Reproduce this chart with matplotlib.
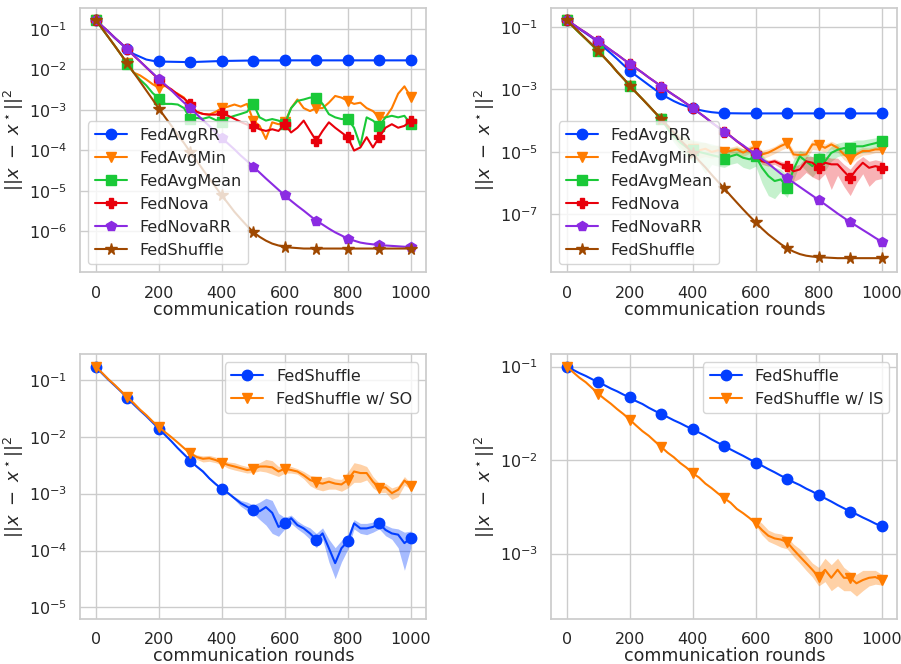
import numpy as np
import matplotlib
matplotlib.use("Agg")
import matplotlib.pyplot as plt
import seaborn as sns

sns.set_theme(style="whitegrid", context="notebook", font_scale=1.05)

# communication rounds (every 20 rounds)
rounds = np.arange(0, 1001, 20)

# colours (seaborn "bright")
c_blue = "#023eff"
c_orange = "#ff7c00"
c_green = "#1ac938"
c_red = "#e8000b"
c_purple = "#8b2be2"
c_brown = "#9f4800"

# ---------------- top left ----------------
tl_fedavgrr = [0.165, 0.117, 0.085, 0.060, 0.043, 0.031, 0.024, 0.0205, 0.0175, 0.0163,
               0.0158, 0.0155, 0.0154, 0.0153, 0.0152, 0.0152, 0.0153, 0.0155, 0.0157, 0.0159,
               0.0161, 0.0162, 0.0163, 0.0164, 0.0165, 0.0165, 0.0166, 0.0166, 0.0166, 0.0166,
               0.0167, 0.0167, 0.0167, 0.0167, 0.0167, 0.0167, 0.0167, 0.0167, 0.0167, 0.0167,
               0.0167, 0.0167, 0.0167, 0.0167, 0.0167, 0.0167, 0.0167, 0.0167, 0.0167, 0.0167,
               0.0167]
tl_fedavgmin = [0.166, 0.100, 0.062, 0.038, 0.023, 0.014, 8.3e-3, 7.1e-3, 5.6e-3, 4.3e-3,
                3.5e-3, 3.9e-3, 3.0e-3, 2.5e-3, 2.0e-3, 1.1e-3, 8.9e-4, 7.9e-4, 7.6e-4, 8.9e-4,
                1.1e-3, 1.2e-3, 1.35e-3, 1.2e-3, 1.4e-3, 5.4e-4, 4.0e-4, 1.9e-4, 4.9e-4, 4.4e-4,
                4.9e-4, 1.1e-3, 1.8e-3, 1.1e-3, 9.3e-4, 1.1e-3, 1.1e-3, 1.5e-3, 2.2e-3, 2.0e-3,
                1.66e-3, 1.4e-3, 1.5e-3, 1.1e-3, 9.3e-4, 6.5e-4, 6.5e-4, 1.1e-3, 2.5e-3, 3.8e-3,
                2.1e-3]
tl_fedavgmean = [0.166, 0.100, 0.062, 0.038, 0.023, 0.0132, 8.3e-3, 5.6e-3, 4.0e-3, 2.6e-3,
                 1.9e-3, 1.4e-3, 1.4e-3, 1.35e-3, 1.1e-3, 5.9e-4, 6.3e-4, 6.0e-4, 6.6e-4, 5.6e-4,
                 4.9e-4, 6.3e-4, 7.1e-4, 7.9e-4, 8.9e-4, 1.4e-3, 6.5e-4, 5.4e-4, 5.9e-4, 5.4e-4,
                 4.4e-4, 1.1e-3, 1.66e-3, 1.8e-3, 2.0e-3, 2.0e-3, 1.4e-3, 7.8e-4, 6.5e-4, 5.9e-4,
                 5.9e-4, 3.6e-4, 1.3e-4, 6.5e-4, 5.4e-4, 4.0e-4, 6.5e-4, 7.1e-4, 6.5e-4, 7.1e-4,
                 4.4e-4]
tl_fednova = [0.166, 0.117, 0.085, 0.060, 0.044, 0.031, 0.022, 0.0158, 0.0112, 7.9e-3,
              5.6e-3, 4.0e-3, 3.2e-3, 2.4e-3, 1.9e-3, 1.4e-3, 8.9e-4, 7.9e-4, 7.6e-4, 7.6e-4,
              8.3e-4, 7.1e-4, 6.0e-4, 5.0e-4, 4.3e-4, 4.0e-4, 3.3e-4, 3.0e-4, 3.3e-4, 3.0e-4,
              4.4e-4, 2.75e-4, 3.6e-4, 5.4e-4, 3.0e-4, 1.7e-4, 3.0e-4, 4.9e-4, 3.6e-4, 2.75e-4,
              2.1e-4, 9.8e-5, 1.17e-4, 2.1e-4, 1.17e-4, 2.1e-4, 3.6e-4, 4.4e-4, 3.6e-4, 4.0e-4,
              5.4e-4]
tl_fednovarr = [0.166, 0.117, 0.085, 0.060, 0.044, 0.031, 0.022, 0.0158, 0.0112, 8.1e-3,
                5.8e-3, 4.2e-3, 3.0e-3, 2.1e-3, 1.5e-3, 1.1e-3, 7.8e-4, 5.5e-4, 4.0e-4, 2.8e-4,
                2.0e-4, 1.45e-4, 1.05e-4, 7.4e-5, 5.4e-5, 3.9e-5, 2.8e-5, 2.0e-5, 1.45e-5, 1.05e-5,
                7.6e-6, 5.6e-6, 4.2e-6, 3.2e-6, 2.4e-6, 1.8e-6, 1.45e-6, 1.15e-6, 9.3e-7, 7.8e-7,
                6.5e-7, 5.8e-7, 5.2e-7, 4.9e-7, 4.7e-7, 4.5e-7, 4.4e-7, 4.3e-7, 4.2e-7, 4.1e-7,
                4.1e-7]
tl_fedshuffle = [0.166, 0.102, 0.062, 0.038, 0.023, 0.014, 8.3e-3, 5.0e-3, 3.0e-3, 1.8e-3,
                 1.06e-3, 6.5e-4, 4.0e-4, 2.4e-4, 1.5e-4, 8.9e-5, 5.5e-5, 3.3e-5, 2.0e-5, 1.23e-5,
                 7.6e-6, 4.8e-6, 3.0e-6, 2.0e-6, 1.35e-6, 9.5e-7, 7.2e-7, 5.8e-7, 4.9e-7, 4.4e-7,
                 4.1e-7, 3.9e-7, 3.8e-7, 3.7e-7, 3.7e-7, 3.7e-7, 3.7e-7, 3.7e-7, 3.7e-7, 3.7e-7,
                 3.7e-7, 3.7e-7, 3.7e-7, 3.7e-7, 3.7e-7, 3.7e-7, 3.7e-7, 3.7e-7, 3.7e-7, 3.7e-7,
                 3.7e-7]

# ---------------- top right ----------------
tr_fedavgrr = [0.162, 0.117, 0.085, 0.062, 0.045, 0.032, 0.021, 0.0141, 9.3e-3, 6.0e-3,
               3.9e-3, 2.75e-3, 1.95e-3, 1.38e-3, 9.8e-4, 7.1e-4, 5.4e-4, 4.2e-4, 3.4e-4, 2.9e-4,
               2.5e-4, 2.2e-4, 2.0e-4, 1.86e-4, 1.78e-4, 1.74e-4, 1.72e-4, 1.71e-4, 1.7e-4, 1.7e-4,
               1.7e-4, 1.7e-4, 1.7e-4, 1.7e-4, 1.7e-4, 1.7e-4, 1.7e-4, 1.7e-4, 1.7e-4, 1.7e-4,
               1.7e-4, 1.7e-4, 1.7e-4, 1.7e-4, 1.7e-4, 1.7e-4, 1.7e-4, 1.7e-4, 1.7e-4, 1.7e-4,
               1.7e-4]
tr_fedavgmin = [0.162, 0.100, 0.063, 0.041, 0.026, 0.017, 0.0102, 6.2e-3, 3.6e-3, 2.2e-3,
                1.32e-3, 7.9e-4, 4.9e-4, 3.0e-4, 1.82e-4, 1.12e-4, 6.3e-5, 3.5e-5, 2.2e-5, 1.58e-5,
                1.26e-5, 1.12e-5, 1.26e-5, 1.0e-5, 1.12e-5, 1.0e-5, 1.07e-5, 1.2e-5, 9.5e-6, 1.2e-5,
                1.51e-5, 8.3e-6, 9.5e-6, 1.2e-5, 1.55e-5, 1.9e-5, 8.3e-6, 7.9e-6, 8.3e-6, 1.74e-5,
                1.7e-5, 1.35e-5, 1.74e-5, 1.35e-5, 8.3e-6, 5.8e-6, 8.3e-6, 1.07e-5, 1.07e-5, 1.2e-5,
                1.2e-5]
tr_fedavgmean = [0.162, 0.100, 0.063, 0.041, 0.026, 0.017, 0.0102, 6.2e-3, 3.6e-3, 2.2e-3,
                 1.32e-3, 7.9e-4, 4.9e-4, 3.0e-4, 1.82e-4, 1.12e-4, 5.6e-5, 3.2e-5, 2.0e-5, 1.41e-5,
                 1.12e-5, 1.0e-5, 8.9e-6, 7.9e-6, 7.1e-6, 6.0e-6, 7.2e-6, 8.3e-6, 6.5e-6, 5.8e-6,
                 7.2e-6, 3.1e-6, 1.7e-6, 1.17e-6, 1.32e-6, 7.2e-7, 2.75e-6, 7.2e-6, 5.0e-6, 3.5e-6,
                 5.8e-6, 5.0e-6, 9.3e-6, 1.17e-5, 1.32e-5, 1.32e-5, 1.51e-5, 1.51e-5, 1.7e-5, 1.9e-5,
                 2.2e-5]
tr_fednova = [0.162, 0.120, 0.087, 0.065, 0.047, 0.035, 0.025, 0.0178, 0.0129, 9.1e-3,
              6.6e-3, 4.7e-3, 3.4e-3, 2.4e-3, 1.74e-3, 1.23e-3, 8.9e-4, 6.5e-4, 4.8e-4, 3.5e-4,
              2.5e-4, 1.78e-4, 1.26e-4, 8.7e-5, 6.2e-5, 4.4e-5, 3.2e-5, 2.2e-5, 1.55e-5, 1.07e-5,
              8.9e-6, 5.0e-6, 4.5e-6, 5.0e-6, 4.0e-6, 3.5e-6, 2.4e-6, 2.75e-6, 5.0e-6, 4.5e-6,
              3.1e-6, 4.5e-6, 4.0e-6, 4.0e-6, 2.4e-6, 1.48e-6, 2.75e-6, 4.5e-6, 3.1e-6, 3.5e-6,
              3.1e-6]
tr_fednovarr = [0.162, 0.120, 0.087, 0.065, 0.047, 0.035, 0.025, 0.0178, 0.0129, 9.1e-3,
                6.6e-3, 4.7e-3, 3.4e-3, 2.4e-3, 1.74e-3, 1.23e-3, 8.9e-4, 6.5e-4, 4.8e-4, 3.5e-4,
                2.5e-4, 1.78e-4, 1.26e-4, 8.7e-5, 6.2e-5, 4.4e-5, 3.2e-5, 2.2e-5, 1.62e-5, 1.15e-5,
                8.3e-6, 5.9e-6, 4.2e-6, 2.9e-6, 2.0e-6, 1.45e-6, 1.05e-6, 7.6e-7, 5.5e-7, 4.0e-7,
                2.9e-7, 2.1e-7, 1.5e-7, 1.07e-7, 7.8e-8, 5.6e-8, 4.3e-8, 3.2e-8, 2.4e-8, 1.78e-8,
                1.35e-8]
tr_fedshuffle = [0.162, 0.102, 0.066, 0.042, 0.027, 0.017, 0.0102, 6.2e-3, 3.6e-3, 2.2e-3,
                 1.32e-3, 7.9e-4, 4.9e-4, 3.0e-4, 1.82e-4, 1.12e-4, 6.8e-5, 4.1e-5, 2.45e-5, 1.48e-5,
                 8.9e-6, 5.2e-6, 3.2e-6, 1.86e-6, 1.12e-6, 6.8e-7, 4.0e-7, 2.4e-7, 1.45e-7, 8.9e-8,
                 5.6e-8, 3.5e-8, 2.3e-8, 1.6e-8, 1.12e-8, 8.3e-9, 6.5e-9, 5.4e-9, 4.8e-9, 4.5e-9,
                 4.3e-9, 4.2e-9, 4.1e-9, 4.0e-9, 4.0e-9, 4.0e-9, 4.0e-9, 4.0e-9, 4.0e-9, 4.0e-9,
                 4.0e-9]

# shaded ranges (top right), rounds 320..1000 and 500..1000
tr_mean_hi = [7.9e-5, 5.0e-5, 3.5e-5, 2.8e-5, 2.4e-5, 2.2e-5, 2.0e-5, 1.78e-5, 1.58e-5, 1.26e-5,
              1.32e-5, 1.41e-5, 1.26e-5, 1.12e-5, 1.26e-5, 7.9e-6, 5.0e-6, 3.2e-6, 2.8e-6, 1.78e-6,
              5.6e-6, 1.12e-5, 8.9e-6, 7.1e-6, 1.0e-5, 8.9e-6, 1.51e-5, 1.9e-5, 2.1e-5, 2.1e-5,
              2.4e-5, 2.4e-5, 2.6e-5, 2.8e-5, 3.2e-5]
tr_mean_lo = [4.0e-5, 2.0e-5, 1.12e-5, 7.1e-6, 5.0e-6, 4.5e-6, 2.0e-6, 4.0e-6, 3.5e-6, 3.2e-6,
              4.0e-6, 4.5e-6, 3.2e-6, 2.8e-6, 3.5e-6, 1.0e-6, 4.0e-7, 3.2e-7, 5.6e-7, 3.5e-7,
              1.26e-6, 4.0e-6, 2.5e-6, 1.58e-6, 2.8e-6, 2.5e-6, 5.0e-6, 7.1e-6, 7.9e-6, 7.9e-6,
              8.9e-6, 9.5e-6, 1.07e-5, 1.26e-5, 1.41e-5]
tr_min_hi = [7.9e-5, 5.0e-5, 3.5e-5, 2.8e-5, 2.2e-5, 2.0e-5, 2.0e-5, 1.58e-5, 1.66e-5, 1.41e-5,
             1.41e-5, 1.58e-5, 1.26e-5, 1.58e-5, 1.9e-5, 1.12e-5, 1.26e-5, 1.51e-5, 2.0e-5, 2.4e-5,
             1.12e-5, 1.12e-5, 1.12e-5, 2.4e-5, 2.5e-5, 1.78e-5, 2.2e-5, 1.78e-5, 1.12e-5, 7.9e-6,
             1.12e-5, 1.41e-5, 1.35e-5, 1.51e-5, 1.48e-5]
tr_min_lo = [5.0e-5, 2.5e-5, 1.41e-5, 8.9e-6, 7.1e-6, 6.3e-6, 7.1e-6, 6.3e-6, 7.1e-6, 6.3e-6,
             7.6e-6, 8.9e-6, 7.1e-6, 8.9e-6, 1.12e-5, 6.0e-6, 7.1e-6, 8.9e-6, 1.12e-5, 1.41e-5,
             6.0e-6, 5.6e-6, 6.0e-6, 1.2e-5, 1.12e-5, 1.0e-5, 1.26e-5, 1.0e-5, 5.6e-6, 4.0e-6,
             6.0e-6, 7.9e-6, 8.3e-6, 9.5e-6, 9.5e-6]
tr_nova_hi = [4.7e-5, 3.5e-5, 2.5e-5, 1.74e-5, 1.2e-5, 1.05e-5, 6.0e-6, 5.5e-6, 6.0e-6, 5.0e-6,
              4.5e-6, 3.5e-6, 4.0e-6, 7.1e-6, 7.1e-6, 5.6e-6, 7.1e-6, 6.3e-6, 6.3e-6, 4.0e-6,
              2.8e-6, 5.0e-6, 7.1e-6, 5.0e-6, 5.6e-6, 5.0e-6]
tr_nova_lo = [4.1e-5, 3.0e-5, 2.0e-5, 1.38e-5, 9.5e-6, 7.6e-6, 4.0e-6, 3.5e-6, 4.0e-6, 3.0e-6,
              2.2e-6, 1.12e-6, 1.41e-6, 2.2e-6, 1.58e-6, 1.26e-6, 2.0e-6, 6.3e-7, 1.78e-6, 7.9e-7,
              4.0e-7, 1.0e-6, 2.0e-6, 7.9e-7, 1.26e-6, 1.41e-6]

# ---------------- bottom left ----------------
bl_fedshuffle = [0.166, 0.129, 0.100, 0.079, 0.062, 0.048, 0.037, 0.029, 0.023, 0.0178,
                 0.0138, 0.0107, 8.3e-3, 6.3e-3, 4.9e-3, 3.8e-3, 3.0e-3, 2.45e-3, 1.86e-3, 1.48e-3,
                 1.2e-3, 1.02e-3, 8.3e-4, 6.8e-4, 5.9e-4, 5.2e-4, 4.9e-4, 5.8e-4, 4.6e-4, 2.6e-4,
                 3.0e-4, 3.7e-4, 2.8e-4, 2.45e-4, 2.0e-4, 1.55e-4, 2.0e-4, 1.1e-4, 6.0e-5, 1.1e-4,
                 1.45e-4, 3.0e-4, 2.45e-4, 2.45e-4, 2.6e-4, 3.0e-4, 2.3e-4, 2.0e-4, 1.9e-4, 1.35e-4,
                 1.66e-4]
bl_fedshuffle_so = [0.170, 0.132, 0.102, 0.081, 0.063, 0.049, 0.039, 0.030, 0.024, 0.0186,
                    0.0148, 0.012, 9.8e-3, 7.9e-3, 6.3e-3, 5.1e-3, 4.4e-3, 4.1e-3, 4.2e-3, 3.9e-3,
                    3.5e-3, 3.2e-3, 3.0e-3, 2.8e-3, 2.6e-3, 2.7e-3, 3.0e-3, 3.0e-3, 2.9e-3, 2.45e-3,
                    2.75e-3, 2.6e-3, 2.45e-3, 2.1e-3, 1.74e-3, 1.58e-3, 1.5e-3, 1.62e-3, 1.5e-3, 1.45e-3,
                    1.74e-3, 2.45e-3, 2.3e-3, 2.3e-3, 1.62e-3, 1.26e-3, 1.29e-3, 1.02e-3, 1.17e-3, 1.7e-3,
                    1.35e-3]
# shaded ranges, rounds 300..1000
bl_shuffle_hi = [3.98e-3, 3.16e-3, 2.57e-3, 1.95e-3, 1.55e-3, 1.26e-3, 1.07e-3, 8.9e-4, 7.6e-4, 7.1e-4,
                 6.3e-4, 7.1e-4, 8.3e-4, 7.6e-4, 4.5e-4, 3.8e-4, 4.2e-4, 3.3e-4, 2.8e-4, 2.5e-4,
                 2.0e-4, 2.5e-4, 1.58e-4, 1.12e-4, 1.51e-4, 1.9e-4, 3.5e-4, 3.0e-4, 3.0e-4, 3.16e-4,
                 3.5e-4, 2.8e-4, 2.5e-4, 2.4e-4, 2.1e-4, 2.2e-4]
bl_shuffle_lo = [3.6e-3, 2.9e-3, 2.3e-3, 1.78e-3, 1.41e-3, 1.15e-3, 9.8e-4, 7.8e-4, 6.0e-4, 5.0e-4,
                 4.5e-4, 3.5e-4, 2.8e-4, 2.0e-4, 1.78e-4, 2.4e-4, 3.0e-4, 2.4e-4, 2.0e-4, 1.58e-4,
                 1.12e-4, 1.58e-4, 6.3e-5, 3.2e-5, 6.3e-5, 1.05e-4, 2.4e-4, 2.0e-4, 1.9e-4, 2.1e-4,
                 2.4e-4, 1.82e-4, 1.58e-4, 1.12e-4, 4.5e-5, 1.12e-4]
bl_so_hi = [5.4e-3, 4.8e-3, 4.6e-3, 4.7e-3, 4.4e-3, 4.0e-3, 3.6e-3, 3.5e-3, 3.2e-3, 3.0e-3,
            3.2e-3, 3.5e-3, 4.0e-3, 3.8e-3, 3.0e-3, 3.3e-3, 3.0e-3, 2.75e-3, 2.45e-3, 2.1e-3,
            2.0e-3, 1.9e-3, 2.0e-3, 1.82e-3, 1.78e-3, 2.4e-3, 3.5e-3, 3.3e-3, 3.0e-3, 2.0e-3,
            1.51e-3, 1.51e-3, 1.26e-3, 1.38e-3, 2.0e-3, 1.51e-3]
bl_so_lo = [4.9e-3, 4.0e-3, 3.6e-3, 3.7e-3, 3.5e-3, 3.2e-3, 2.8e-3, 2.6e-3, 2.45e-3, 2.3e-3,
            2.35e-3, 2.5e-3, 2.4e-3, 2.2e-3, 2.0e-3, 2.3e-3, 2.3e-3, 2.2e-3, 1.82e-3, 1.38e-3,
            1.2e-3, 1.12e-3, 1.2e-3, 1.2e-3, 1.1e-3, 1.26e-3, 1.58e-3, 1.58e-3, 1.74e-3, 1.26e-3,
            1.05e-3, 1.05e-3, 7.9e-4, 8.9e-4, 1.41e-3, 1.2e-3]

# ---------------- bottom right ----------------
br_fedshuffle = [0.100, 0.0923, 0.0851, 0.0794, 0.0733, 0.0676, 0.0631, 0.0582, 0.0543, 0.0501,
                 0.0468, 0.0427, 0.0398, 0.0363, 0.0335, 0.0309, 0.0288, 0.0266, 0.0248, 0.0229,
                 0.0214, 0.0197, 0.0182, 0.0166, 0.0153, 0.0141, 0.0130, 0.0120, 0.0111, 0.0102,
                 9.4e-3, 8.7e-3, 8.0e-3, 7.4e-3, 6.8e-3, 6.3e-3, 5.8e-3, 5.4e-3, 4.95e-3, 4.6e-3,
                 4.2e-3, 3.9e-3, 3.6e-3, 3.3e-3, 3.05e-3, 2.8e-3, 2.63e-3, 2.43e-3, 2.26e-3, 2.09e-3,
                 1.95e-3]
br_fedshuffle_is = [0.100, 0.087, 0.076, 0.068, 0.059, 0.051, 0.045, 0.040, 0.035, 0.031,
                    0.027, 0.0234, 0.0204, 0.0182, 0.0158, 0.0138, 0.0120, 0.0107, 9.3e-3, 8.3e-3,
                    7.2e-3, 6.5e-3, 5.6e-3, 5.0e-3, 4.4e-3, 3.9e-3, 3.5e-3, 3.0e-3, 2.7e-3, 2.4e-3,
                    2.1e-3, 1.78e-3, 1.55e-3, 1.45e-3, 1.41e-3, 1.32e-3, 1.10e-3, 9.3e-4, 7.9e-4, 6.7e-4,
                    5.6e-4, 6.7e-4, 5.5e-4, 6.7e-4, 5.5e-4, 5.5e-4, 4.8e-4, 5.2e-4, 5.5e-4, 5.6e-4,
                    5.2e-4]
# shaded range, rounds 600..1000
br_is_hi = [2.4e-3, 2.1e-3, 1.78e-3, 1.66e-3, 1.62e-3, 1.51e-3, 1.26e-3, 1.12e-3, 9.5e-4, 7.9e-4,
            7.1e-4, 8.9e-4, 7.6e-4, 8.9e-4, 7.1e-4, 6.3e-4, 6.0e-4, 6.6e-4, 6.6e-4, 6.6e-4, 6.0e-4]
br_is_lo = [2.0e-3, 1.58e-3, 1.35e-3, 1.26e-3, 1.17e-3, 1.12e-3, 9.3e-4, 7.9e-4, 6.6e-4, 5.6e-4,
            4.5e-4, 5.0e-4, 4.0e-4, 4.5e-4, 4.0e-4, 4.0e-4, 3.5e-4, 4.0e-4, 4.5e-4, 4.7e-4, 4.6e-4]

ylabel = r"$||x\ -\ x^\star||^2$"
ms = 7.5
mk = 5  # marker every 100 rounds


def style_axis(ax, ylim, yticks):
    ax.set_yscale("log")
    ax.set_ylim(ylim)
    ax.set_yticks(yticks)
    ax.set_xticks([0, 200, 400, 600, 800, 1000])
    ax.set_xlim(-50, 1050)
    ax.set_xlabel("communication rounds", labelpad=0)
    ax.set_ylabel(ylabel, fontsize=13, labelpad=2)
    ax.yaxis.set_minor_locator(matplotlib.ticker.NullLocator())


fig, axes = plt.subplots(2, 2, figsize=(9.01, 6.64), dpi=100)
fig.subplots_adjust(left=0.089, right=0.996, top=0.988, bottom=0.068, wspace=0.36, hspace=0.31)

# top left
ax = axes[0, 0]
ax.plot(rounds, tl_fedavgrr, color=c_blue, marker="o", ms=ms, markevery=mk, label="FedAvgRR")
ax.plot(rounds, tl_fedavgmin, color=c_orange, marker="v", ms=ms, markevery=mk, label="FedAvgMin")
ax.plot(rounds, tl_fedavgmean, color=c_green, marker="s", ms=ms, markevery=mk, label="FedAvgMean")
ax.plot(rounds, tl_fednova, color=c_red, marker="P", ms=ms, markevery=mk, label="FedNova")
ax.plot(rounds, tl_fednovarr, color=c_purple, marker="p", ms=ms, markevery=mk, label="FedNovaRR")
ax.plot(rounds, tl_fedshuffle, color=c_brown, marker="*", ms=ms + 1, markevery=mk, label="FedShuffle")
style_axis(ax, (9.5e-8, 0.33), [1e-6, 1e-5, 1e-4, 1e-3, 1e-2, 1e-1])
ax.legend(loc="lower left")

# top right
ax = axes[0, 1]
ax.plot(rounds, tr_fedavgrr, color=c_blue, marker="o", ms=ms, markevery=mk, label="FedAvgRR")
ax.fill_between(rounds[16:], tr_min_lo, tr_min_hi, color=c_orange, alpha=0.25, lw=0)
ax.plot(rounds, tr_fedavgmin, color=c_orange, marker="v", ms=ms, markevery=mk, label="FedAvgMin")
ax.fill_between(rounds[16:], tr_mean_lo, tr_mean_hi, color=c_green, alpha=0.25, lw=0)
ax.plot(rounds, tr_fedavgmean, color=c_green, marker="s", ms=ms, markevery=mk, label="FedAvgMean")
ax.fill_between(rounds[25:], tr_nova_lo, tr_nova_hi, color=c_red, alpha=0.3, lw=0)
ax.plot(rounds, tr_fednova, color=c_red, marker="P", ms=ms, markevery=mk, label="FedNova")
ax.plot(rounds, tr_fednovarr, color=c_purple, marker="p", ms=ms, markevery=mk, label="FedNovaRR")
ax.plot(rounds, tr_fedshuffle, color=c_brown, marker="*", ms=ms + 1, markevery=mk, label="FedShuffle")
style_axis(ax, (1.4e-9, 0.40), [1e-7, 1e-5, 1e-3, 1e-1])
ax.legend(loc="lower left")

# bottom left
ax = axes[1, 0]
ax.fill_between(rounds[15:], bl_shuffle_lo, bl_shuffle_hi, color=c_blue, alpha=0.35, lw=0)
ax.plot(rounds, bl_fedshuffle, color=c_blue, marker="o", ms=ms, markevery=mk, label="FedShuffle")
ax.fill_between(rounds[15:], bl_so_lo, bl_so_hi, color=c_orange, alpha=0.35, lw=0)
ax.plot(rounds, bl_fedshuffle_so, color=c_orange, marker="v", ms=ms, markevery=mk, label="FedShuffle w/ SO")
style_axis(ax, (6.3e-6, 0.28), [1e-5, 1e-4, 1e-3, 1e-2, 1e-1])
ax.legend(loc="upper right")

# bottom right
ax = axes[1, 1]
ax.plot(rounds, br_fedshuffle, color=c_blue, marker="o", ms=ms, markevery=mk, label="FedShuffle")
ax.fill_between(rounds[30:], br_is_lo, br_is_hi, color=c_orange, alpha=0.35, lw=0)
ax.plot(rounds, br_fedshuffle_is, color=c_orange, marker="v", ms=ms, markevery=mk, label="FedShuffle w/ IS")
style_axis(ax, (2.0e-4, 0.135), [1e-3, 1e-2, 1e-1])
ax.legend(loc="upper right")

fig.savefig("out.png", dpi=100)
